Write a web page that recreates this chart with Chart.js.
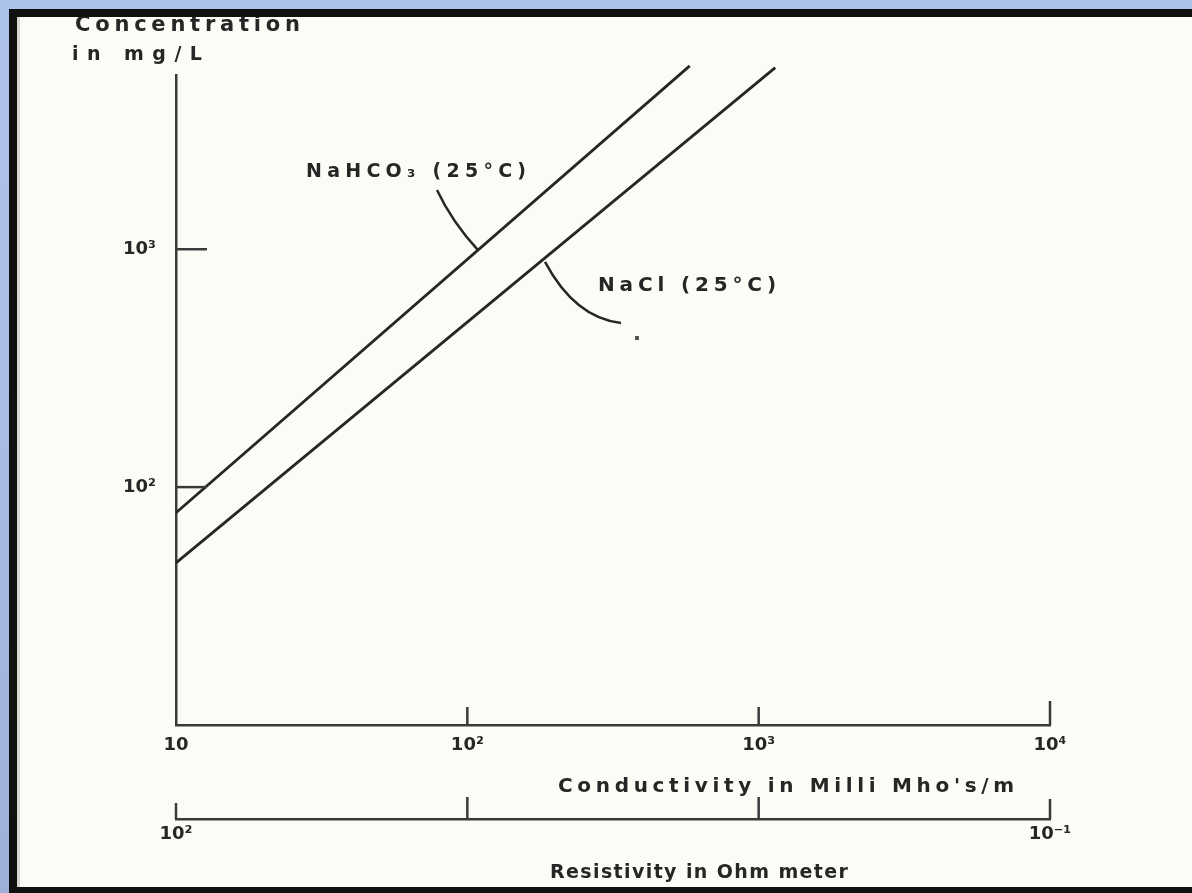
<!DOCTYPE html>
<html><head><meta charset="utf-8">
<script src="https://cdn.jsdelivr.net/npm/chart.js@4.4.1/dist/chart.umd.min.js"></script>
<style>html,body{margin:0;padding:0;background:#adc2ea;overflow:hidden}canvas{display:block}</style>
</head><body>
<canvas id="c" width="1192" height="893"></canvas>
<script>
// ---- data ----
const conductivityTicks = [10, 100, 1000, 10000];
const conductivityLabels = ['10', '10²', '10³', '10⁴'];
const resistivityTicks = [100, 10, 1, 0.1];
const resistivityLabels = ['10²', '', '', '10⁻¹'];
const concentrationTicks = [100, 1000];
const concentrationLabels = ['10²', '10³'];
const seriesNames = ['NaHCO₃ (25°C)', 'NaCl (25°C)'];
const nahco3Conductivity = [10, 580];
const nahco3Concentration = [78, 5900];
const naclConductivity = [10, 1140];
const naclConcentration = [48, 5800];
const xTitle = "Conductivity in Milli Mho's/m";
const x2Title = "Resistivity in Ohm meter";
const yTitle = ['Concentration', 'in mg/L'];

const ink = '#262626';
const axisInk = '#3a3a3a';
const FONT = '"DejaVu Sans", sans-serif';

function fitText(ctx, text, left, baseline, width, font) {
  ctx.save();
  ctx.font = font;
  try { ctx.letterSpacing = '0px'; } catch (e) {}
  const w = ctx.measureText(text).width;
  const n = [...text].length;
  const ls = (width - w) / Math.max(1, n - 1);
  try { ctx.letterSpacing = ls.toFixed(2) + 'px'; } catch (e) {}
  ctx.fillStyle = ink;
  ctx.textAlign = 'left';
  ctx.textBaseline = 'alphabetic';
  ctx.fillText(text, left, baseline);
  ctx.restore();
}

const framePlugin = {
  id: 'frame',
  beforeDraw(chart) {
    const ctx = chart.ctx, W = chart.width, H = chart.height;
    ctx.save();
    const g = ctx.createLinearGradient(0, 0, 0, H);
    g.addColorStop(0, '#aec3ea');
    g.addColorStop(0.5, '#a9bce6');
    g.addColorStop(1, '#9fb0d8');
    ctx.fillStyle = g;
    ctx.fillRect(0, 0, W, H);
    ctx.fillStyle = '#111';
    ctx.fillRect(9, 9, W - 9, H - 9);
    ctx.fillStyle = '#fcfcf7';
    ctx.fillRect(17, 17, W - 17, 870);
    ctx.fillStyle = '#d6d6d2';
    ctx.fillRect(17, 17, 3, 870);
    ctx.restore();
  },
  afterDraw(chart) {
    const ctx = chart.ctx;
    const sx = chart.scales.x, sx2 = chart.scales.x2, sy = chart.scales.y;
    ctx.save();
    ctx.strokeStyle = axisInk;
    ctx.lineWidth = 2.5;
    ctx.lineCap = 'butt';
    concentrationTicks.forEach(v => {
      const p = sy.getPixelForValue(v);
      ctx.beginPath(); ctx.moveTo(sy.right, p); ctx.lineTo(sy.right + 31, p); ctx.stroke();
    });
    conductivityTicks.forEach((v, i) => {
      if (i === 0) return;
      const p = sx.getPixelForValue(v);
      const len = i === conductivityTicks.length - 1 ? 24 : 18;
      ctx.beginPath(); ctx.moveTo(p, sx.top); ctx.lineTo(p, sx.top - len); ctx.stroke();
    });
    resistivityTicks.forEach((v, i) => {
      const p = sx2.getPixelForValue(v);
      const len = (i === 0) ? 16 : (i === resistivityTicks.length - 1 ? 20 : 22);
      ctx.beginPath(); ctx.moveTo(p, sx2.top); ctx.lineTo(p, sx2.top - len); ctx.stroke();
    });

    ctx.beginPath(); ctx.rect(17, 17, chart.width - 17, 870); ctx.clip();
    fitText(ctx, yTitle[0], 75, 31, 225, 'bold 21px ' + FONT);
    fitText(ctx, yTitle[1], 72, 60, 130, 'bold 19px ' + FONT);
    fitText(ctx, xTitle, 558, 792, 456, 'bold 20px ' + FONT);
    fitText(ctx, x2Title, 550, 878, 298, 'bold 19px ' + FONT);

    fitText(ctx, seriesNames[0], 306, 177, 220, 'bold 19px ' + FONT);
    fitText(ctx, seriesNames[1], 598, 291, 178, 'bold 20px ' + FONT);

    const m0 = chart.getDatasetMeta(0).data;
    const a = m0[0], b = m0[1];
    const ex = 478, t = (ex - a.x) / (b.x - a.x), ey = a.y + t * (b.y - a.y);
    ctx.strokeStyle = ink; ctx.lineWidth = 2.5;
    ctx.beginPath(); ctx.moveTo(437, 190); ctx.quadraticCurveTo(452, 222, ex, ey); ctx.stroke();
    const m1 = chart.getDatasetMeta(1).data;
    const c = m1[0], d = m1[1];
    const sx0 = 545, t1 = (sx0 - c.x) / (d.x - c.x), sy0 = c.y + t1 * (d.y - c.y);
    ctx.beginPath(); ctx.moveTo(sx0, sy0 + 4); ctx.quadraticCurveTo(575, 318, 621, 323); ctx.stroke();
    ctx.fillStyle = '#555';
    ctx.fillRect(635, 336, 4, 4);
    ctx.restore();
  }
};

const tickFont = { family: FONT, size: 18, weight: 'bold' };

new Chart(document.getElementById('c'), {
  type: 'scatter',
  data: {
    datasets: [
      { label: seriesNames[0], data: nahco3Conductivity.map((x, i) => ({ x, y: nahco3Concentration[i] })),
        showLine: true, borderColor: ink, borderWidth: 2.8, pointRadius: 0, clip: false, xAxisID: 'x', yAxisID: 'y' },
      { label: seriesNames[1], data: naclConductivity.map((x, i) => ({ x, y: naclConcentration[i] })),
        showLine: true, borderColor: ink, borderWidth: 2.8, pointRadius: 0, clip: false, xAxisID: 'x', yAxisID: 'y' }
    ]
  },
  options: {
    responsive: false, animation: false, devicePixelRatio: 1,
    layout: { padding: { left: 100, top: 75, right: 142, bottom: 0 } },
    plugins: { legend: { display: false }, tooltip: { enabled: false } },
    scales: {
      x: {
        type: 'logarithmic', position: 'bottom', min: 10, max: 10000,
        afterBuildTicks: s => { s.ticks = conductivityTicks.map(v => ({ value: v })); },
        afterFit: s => { s.height = 94; },
        ticks: { callback: v => conductivityLabels[conductivityTicks.indexOf(v)] ?? '', padding: 10,
                 maxRotation: 0, autoSkip: false, color: ink, font: tickFont },
        grid: { display: true, drawOnChartArea: false, drawTicks: false },
        border: { display: true, color: axisInk, width: 2.5 }
      },
      x2: {
        type: 'logarithmic', position: 'bottom', min: 0.1, max: 100, reverse: true,
        afterBuildTicks: s => { s.ticks = resistivityTicks.map(v => ({ value: v })); },
        afterFit: s => { s.height = 74; },
        ticks: { callback: v => resistivityLabels[resistivityTicks.indexOf(v)] ?? '', padding: 5,
                 maxRotation: 0, autoSkip: false, color: ink, font: tickFont },
        grid: { display: true, drawOnChartArea: false, drawTicks: false },
        border: { display: true, color: axisInk, width: 2.5 }
      },
      y: {
        type: 'logarithmic', position: 'left', min: 10, max: 5400,
        afterBuildTicks: s => { s.ticks = concentrationTicks.map(v => ({ value: v })); },
        afterFit: s => { s.width = 76; },
        ticks: { callback: v => concentrationLabels[concentrationTicks.indexOf(v)] ?? '', padding: 20,
                 color: ink, font: { family: FONT, size: 18, weight: 'bold' } },
        grid: { display: true, drawOnChartArea: false, drawTicks: false },
        border: { display: true, color: axisInk, width: 2.5 }
      }
    }
  },
  plugins: [framePlugin]
});
</script>
</body></html>
